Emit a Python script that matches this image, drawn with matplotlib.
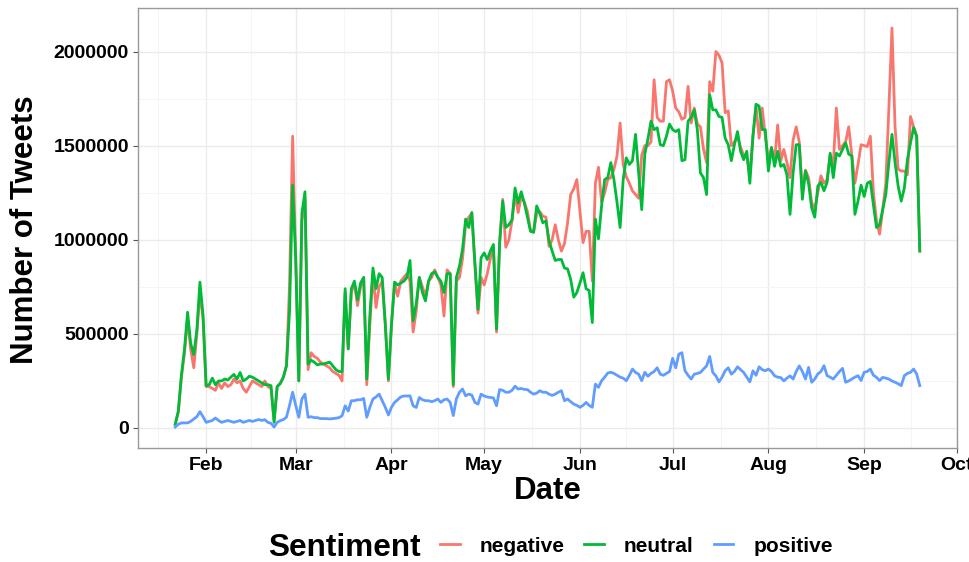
import matplotlib
matplotlib.use("Agg")
import matplotlib.pyplot as plt
import matplotlib.dates as mdates
import pandas as pd
import numpy as np

# Daily tweet counts by sentiment (thousands of tweets), 2020-01-22 .. 2020-09-19
start_date = "2020-01-22"

negative_k = [
    20, 85, 270, 400, 580, 420, 320, 500, 720, 580, 220,
    220, 210, 200, 240, 210, 240, 220, 230, 260, 240,
    250, 210, 190, 220, 250, 240, 230, 220, 250, 220,
    210, 40, 220, 240, 270, 330, 760, 1550, 900, 250,
    1100, 1220, 310, 400, 380, 370, 350, 340, 330, 320,
    300, 290, 280, 250, 720, 420, 720, 770, 650, 750,
    800, 230, 550, 820, 640, 750, 780, 550, 250, 550,
    770, 700, 780, 800, 820, 780, 510, 620, 800, 750,
    700, 780, 800, 840, 800, 760, 595, 840, 820, 220,
    780, 800, 900, 1080, 1120, 1140, 860, 610, 800, 760,
    820, 900, 960, 510, 980, 1215, 960, 1000, 1100, 1240,
    1145, 1230, 1200, 1150, 1050, 1040, 1140, 1150, 1125, 1120,
    965, 1000, 1080, 1000, 940, 980, 1090, 1240, 1270, 1320,
    1150, 985, 1045, 1045, 780, 1300, 1385, 1200, 1250, 1320,
    1330, 1375, 1445, 1620, 1400, 1335, 1300, 1260, 1240, 1220,
    1450, 1500, 1500, 1520, 1850, 1650, 1630, 1630, 1840, 1850,
    1790, 1700, 1680, 1640, 1650, 1815, 1620, 1700, 1615, 1600,
    1480, 1410, 1840, 1790, 2000, 1980, 1940, 1675, 1685, 1500,
    1520, 1550, 1490, 1450, 1440, 1350, 1550, 1710, 1540, 1700,
    1550, 1420, 1490, 1420, 1610, 1420, 1480, 1410, 1330, 1530,
    1600, 1520, 1250, 1370, 1330, 1200, 1160, 1250, 1340, 1300,
    1320, 1450, 1400, 1700, 1480, 1500, 1520, 1600, 1450, 1300,
    1400, 1505, 1500, 1495, 1550, 1250, 1100, 1030, 1160, 1300,
    1700, 2125, 1600, 1375, 1365, 1365, 1345, 1655, 1600, 1550,
    940,
]

neutral_k = [
    20, 90, 280, 420, 615, 450, 390, 520, 775, 600, 225,
    230, 265, 230, 250, 250, 260, 255, 270, 285, 260,
    295, 250, 260, 275, 270, 260, 250, 240, 230, 230,
    225, 30, 220, 235, 270, 330, 620, 1290, 900, 250,
    1140, 1255, 340, 360, 350, 335, 340, 340, 345, 350,
    330, 310, 300, 300, 740, 420, 740, 780, 680, 770,
    800, 260, 600, 850, 740, 820, 800, 550, 260, 550,
    775, 760, 770, 780, 800, 890, 570, 660, 800, 720,
    675, 780, 820, 830, 800, 780, 720, 820, 820, 230,
    800, 860, 950, 1110, 1065, 1145, 880, 630, 905, 930,
    895, 940, 975, 525, 985, 1205, 1065, 1080, 1105, 1275,
    1195, 1255, 1195, 1120, 1045, 1040, 1180, 1140, 1090, 1100,
    995, 940, 890, 895, 895, 850, 845, 790, 695, 720,
    770, 825, 740, 730, 560, 1110, 1005, 1180, 1320, 1330,
    1410, 1320, 1200, 1065, 1320, 1435, 1400, 1420, 1560, 1355,
    1160, 1455, 1535, 1630, 1585, 1595, 1505, 1500, 1550, 1615,
    1585, 1575, 1585, 1420, 1425, 1630, 1650, 1690, 1585, 1355,
    1330, 1240, 1770, 1690, 1690, 1655, 1650, 1540, 1505, 1420,
    1505, 1575, 1470, 1425, 1470, 1300, 1550, 1720, 1710, 1585,
    1585, 1365, 1490, 1390, 1470, 1390, 1400, 1345, 1135, 1355,
    1505, 1505, 1215, 1365, 1300, 1170, 1120, 1285, 1305, 1260,
    1305, 1460, 1330, 1460, 1445, 1480, 1515, 1455, 1445, 1135,
    1205, 1290, 1230, 1300, 1310, 1185, 1065, 1080, 1160, 1240,
    1410, 1560, 1410, 1285, 1205, 1275, 1425, 1515, 1595, 1550,
    940,
]

positive_k = [
    5, 20, 27, 27, 27, 35, 48, 60, 87, 60, 30,
    35, 40, 53, 40, 30, 35, 40, 35, 30, 35,
    40, 30, 35, 40, 35, 40, 45, 40, 44, 30,
    25, 5, 30, 39, 45, 57, 120, 190, 120, 57,
    154, 180, 57, 60, 55, 55, 50, 50, 50, 48,
    50, 52, 55, 65, 118, 90, 145, 145, 150, 150,
    157, 57, 110, 154, 165, 180, 145, 110, 69, 110,
    136, 150, 165, 170, 170, 171, 118, 109, 162, 150,
    145, 145, 140, 145, 154, 136, 150, 154, 136, 66,
    154, 190, 207, 171, 180, 175, 136, 127, 180, 170,
    165, 162, 160, 118, 204, 200, 190, 190, 200, 222,
    207, 210, 205, 204, 190, 180, 185, 198, 190, 190,
    180, 173, 180, 190, 198, 145, 154, 140, 127, 120,
    110, 120, 136, 120, 110, 233, 216, 251, 270, 292,
    296, 290, 280, 270, 265, 251, 280, 313, 295, 286,
    251, 296, 275, 290, 300, 320, 286, 280, 290, 300,
    370, 320, 392, 400, 304, 280, 260, 286, 290, 295,
    313, 330, 380, 295, 277, 245, 270, 304, 320, 286,
    300, 325, 310, 295, 270, 245, 304, 280, 325, 310,
    304, 313, 300, 277, 270, 268, 250, 265, 277, 260,
    300, 330, 300, 260, 322, 243, 260, 287, 300, 331,
    278, 270, 260, 280, 300, 317, 243, 250, 260, 270,
    278, 252, 296, 300, 313, 280, 269, 252, 269, 265,
    260, 250, 243, 235, 225, 278, 290, 296, 313, 287,
    225,
]

sentiments = ["negative", "neutral", "positive"]
colors = {"negative": "#F8766D", "neutral": "#00BA38", "positive": "#619CFF"}

n = min(len(negative_k), len(neutral_k), len(positive_k))
dates = pd.date_range(start_date, periods=n, freq="D")
series = {
    "negative": np.array(negative_k[:n]) * 1000,
    "neutral": np.array(neutral_k[:n]) * 1000,
    "positive": np.array(positive_k[:n]) * 1000,
}

plt.rcParams["font.family"] = ["Liberation Sans", "DejaVu Sans"]
plt.rcParams["font.weight"] = "bold"

fig = plt.figure(figsize=(9.7, 5.62), dpi=100)
ax = fig.add_axes([138 / 970, 1 - 448 / 562, (957 - 138) / 970, (448 - 8) / 562])

handles = []
for s in sentiments:
    (h,) = ax.plot(dates, series[s], color=colors[s], lw=2.0, label=s,
                   solid_joinstyle="round", zorder=3)
    handles.append(h)

# Month ticks and mid-month minor gridlines
month_starts = pd.date_range("2020-01-01", "2020-11-01", freq="MS")
major = [d for d in month_starts if d >= pd.Timestamp("2020-02-01") and d <= pd.Timestamp("2020-10-01")]
mnum = mdates.date2num(month_starts)
minor = (mnum[:-1] + mnum[1:]) / 2
ax.set_xticks(mdates.date2num(major))
ax.set_xticklabels([d.strftime("%b") for d in major])
ax.set_xticks(minor, minor=True)

yt = [0, 500000, 1000000, 1500000, 2000000]
ax.set_yticks(yt)
ax.set_yticklabels([str(v) for v in yt])
ax.set_yticks([-250000, 250000, 750000, 1250000, 1750000, 2250000], minor=True)

# ggplot-style 5% expansion on both axes (after ticks, so they don't widen the view)
xnum = mdates.date2num(dates)
xr = xnum[-1] - xnum[0]
ax.set_xlim(xnum[0] - 0.05 * xr, xnum[-1] + 0.05 * xr)
ymax = max(series[s].max() for s in sentiments)
ax.set_ylim(-0.05 * ymax, ymax * 1.05)

ax.set_facecolor("white")
ax.grid(which="major", color="#EBEBEB", lw=1.0, zorder=0)
ax.grid(which="minor", color="#F4F4F4", lw=0.6, zorder=0)
ax.set_axisbelow(True)
for sp in ax.spines.values():
    sp.set_color("#999999")
    sp.set_linewidth(1.0)

ax.tick_params(axis="both", which="major", length=3.5, width=0.8, color="#555555",
               labelsize=14, labelcolor="black", pad=3)
ax.tick_params(axis="both", which="minor", length=0)
for lab in ax.get_xticklabels() + ax.get_yticklabels():
    lab.set_fontweight("bold")

fig.text(25 / 970, 1 - 230 / 562, "Number of Tweets", rotation=90, ha="center",
         va="center", fontsize=22.5, fontweight="bold")
fig.text(548 / 970, 1 - 491 / 562, "Date", ha="center", va="center",
         fontsize=22.5, fontweight="bold")

fig.text(268 / 970, 1 - 548 / 562, "Sentiment", ha="left", va="center",
         fontsize=22.7, fontweight="bold")
leg = ax.legend(handles=handles, labels=sentiments, ncol=3, frameon=False,
                loc="center left", bbox_to_anchor=(440 / 970, 1 - 546 / 562),
                bbox_transform=fig.transFigure, borderpad=0, borderaxespad=0,
                handlelength=0.95, handletextpad=0.95, columnspacing=0.95,
                prop={"size": 15, "weight": "bold"})

fig.savefig("out.png", dpi=100, facecolor="white")
